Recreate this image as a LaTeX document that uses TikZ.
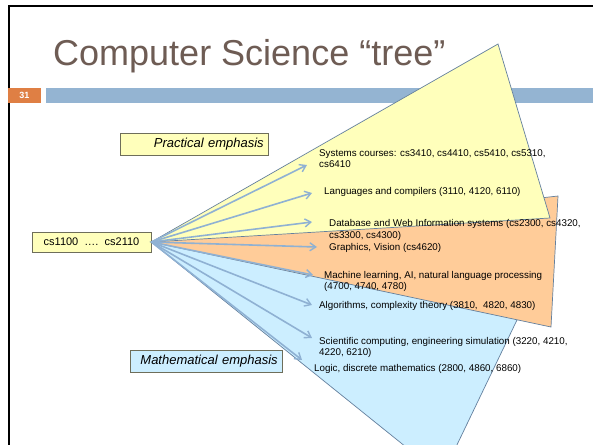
\documentclass[tikz,border=0pt]{standalone}
\usepackage{fontspec}
\setmainfont{Liberation Sans}
\usetikzlibrary{arrows.meta}

\definecolor{titlebrown}{RGB}{110,92,84}
\definecolor{barblue}{RGB}{148,180,210}
\definecolor{barorange}{RGB}{223,127,68}
\definecolor{fanyellow}{RGB}{255,255,187}
\definecolor{fanorange}{RGB}{255,204,153}
\definecolor{fanblue}{RGB}{204,238,255}
\definecolor{fanedge}{RGB}{100,128,158}
\definecolor{arrowblue}{RGB}{143,177,211}
\definecolor{boxedge}{RGB}{110,110,90}

\begin{document}
\begin{tikzpicture}[x=1pt,y=-1pt,
  fan/.style={draw=fanedge,line width=0.7pt},
  course/.style={anchor=west,inner sep=0pt,align=left,
    font=\fontsize{9.8}{11.5}\selectfont},
  branch/.style={draw=arrowblue,line width=1.6pt,
    -{Straight Barb[length=6pt,width=8pt,line width=1.4pt]}},
  emph/.style={draw=boxedge,line width=0.6pt,inner xsep=5pt,inner ysep=0pt,
    minimum height=22pt,align=right,font=\fontsize{13}{15}\selectfont\itshape}]

\useasboundingbox (0,0) rectangle (593,444);
\begin{scope}
\clip (0,0) rectangle (593,444);
\fill[white] (0,0) rectangle (593,444);

% slide frame
\draw[black,line width=2.5pt] (9,460) -- (9,6) -- (610,6);

% title
\node[anchor=base west,inner sep=0pt,text=titlebrown,
  font=\fontsize{36}{40}\selectfont] (title) at (53,65)
  {Computer Science “tree”};

% page number tab and header bar
\fill[barorange] (8,88) rectangle (41,103);
\node[text=white,font=\fontsize{9}{10}\selectfont\bfseries] (pagenum)
  at (24.5,95.5) {31};
\fill[barblue] (46,88) rectangle (600,103);

% root course box
\node[draw=boxedge,fill=fanyellow,line width=0.6pt,minimum width=119pt,
  minimum height=20pt,inner sep=0pt,font=\fontsize{11}{13}\selectfont]
  (cs) at (91.5,242) {cs1100\ \ ….\ \ cs2110};

% fans of areas, drawn from the back
\coordinate (apex) at (cs.east);
\filldraw[fan,fill=fanblue] (apex) -- (541,270) -- (442,476) -- cycle;
\filldraw[fan,fill=fanorange] (apex) -- (558,196) -- (551,327) -- cycle;
\filldraw[fan,fill=fanyellow] (apex) -- (498,44) -- (550,218) -- cycle;

% emphasis labels
\node[emph,fill=fanyellow,text width=138pt,anchor=east] (practical)
  at (269,144) {Practical emphasis};
\node[emph,fill=fanblue,text width=142pt,anchor=east] (math)
  at (283,361) {Mathematical emphasis};

% arrow ends
\coordinate (t1) at (307,165);
\coordinate (t2) at (312,193);
\coordinate (t3) at (312,222);
\coordinate (t4) at (317,247);
\coordinate (t5) at (313,275);
\coordinate (t6) at (312,305);
\coordinate (t7) at (312,338);
\coordinate (t8) at (302,360);
\foreach \t in {t1,t2,t3,t4,t5,t6,t7,t8}
  \draw[branch] (apex) -- (\t);

% course areas
\node[course] (systems) at (319,158.5)
  {Systems courses: cs3410, cs4410, cs5410, cs5310,\\cs6410};
\node[course] (languages) at (324,192)
  {Languages and compilers (3110, 4120, 6110)};
\node[course] (database) at (329,230)
  {Database and Web Information systems (cs2300, cs4320,\\cs3300, cs4300)};
\node[course] (graphics) at (329,248)
  {Graphics, Vision (cs4620)};
\node[course] (ml) at (324,281.5)
  {Machine learning, AI, natural language processing\\(4700, 4740, 4780)};
\node[course] (algorithms) at (319,306)
  {Algorithms, complexity theory (3810,\ \ 4820, 4830)};
\node[course] (scientific) at (319,347.5)
  {Scientific computing, engineering simulation (3220, 4210,\\4220, 6210)};
\node[course] (logic) at (314,369)
  {Logic, discrete mathematics (2800, 4860, 6860)};
\end{scope}
\end{tikzpicture}
\end{document}
